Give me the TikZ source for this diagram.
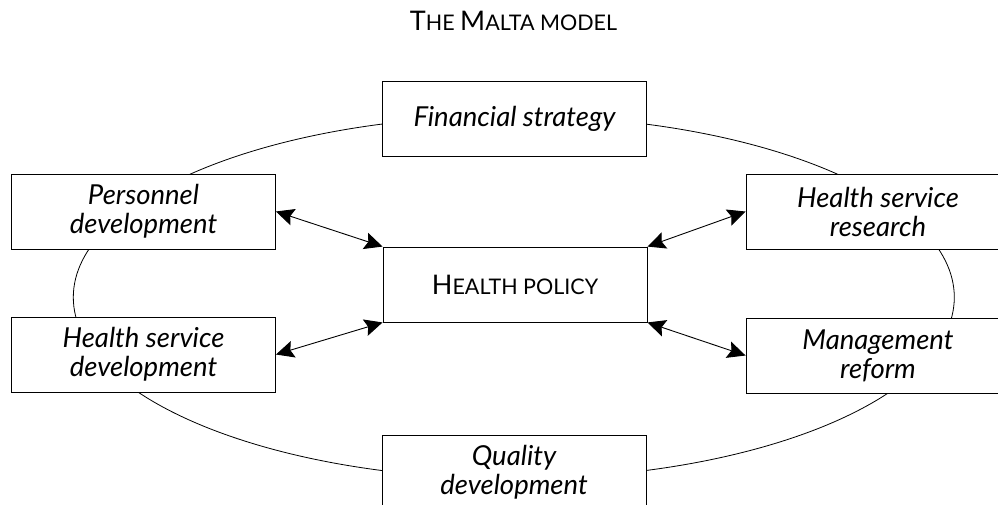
\documentclass[tikz,border=0pt]{standalone}
\usepackage{fontspec}
\setmainfont{Lato}
\usetikzlibrary{arrows.meta}
\newcommand{\scbig}[1]{{\fontsize{27}{29}\selectfont #1}}
\newcommand{\scsmall}[1]{{\fontsize{21.5}{29}\selectfont #1}}
\tikzset{
  box/.style={draw, fill=white, minimum width=264pt, minimum height=75pt,
    inner sep=0pt, align=center, line width=0.9pt,
    font=\fontsize{27.5}{29}\selectfont\itshape},
  tip/.style={Stealth[length=18pt,width=17pt,inset=3pt]},
  link/.style={{Stealth[length=18pt,width=17pt,inset=3pt]}-{Stealth[length=18pt,width=17pt,inset=3pt]}, line width=0.9pt},
  ring/.style={line width=0.8pt},
}
\begin{document}
\begin{tikzpicture}[x=1pt,y=-1pt]
\clip (0,0) rectangle (998,504);
\node (title) at (513.5,21) {\scbig{T}\scsmall{HE }\scbig{M}\scsmall{ALTA MODEL}};
\draw[ring] (513.8,297.3) ellipse [x radius=440.5pt, y radius=181.5pt];
\node[box] (fs)  at (514.5,119)   {Financial strategy};
\node[box] (pd)  at (143.5,211.5) {Personnel\\development};
\node[box] (hsd) at (143.5,354.5) {Health service\\development};
\node[box, font=\fontsize{27}{29}\selectfont] (hp) at (515,284.5)
  {\scbig{H}\scsmall{EALTH POLICY}};
\node[box] (hsr) at (878,211.5)   {Health service\\research};
\node[box] (mr)  at (878,355.5)   {Management\\reform};
\node[box] (qd)  at (514,472.5)   {Quality\\development};
\draw[link] (pd.east) -- (hp.north west);
\draw[link] (hsd.east) -- (hp.south west);
\draw[link] (hp.north east) -- (hsr.west);
\draw[link] (hp.south east) -- (mr.west);
\end{tikzpicture}
\end{document}
